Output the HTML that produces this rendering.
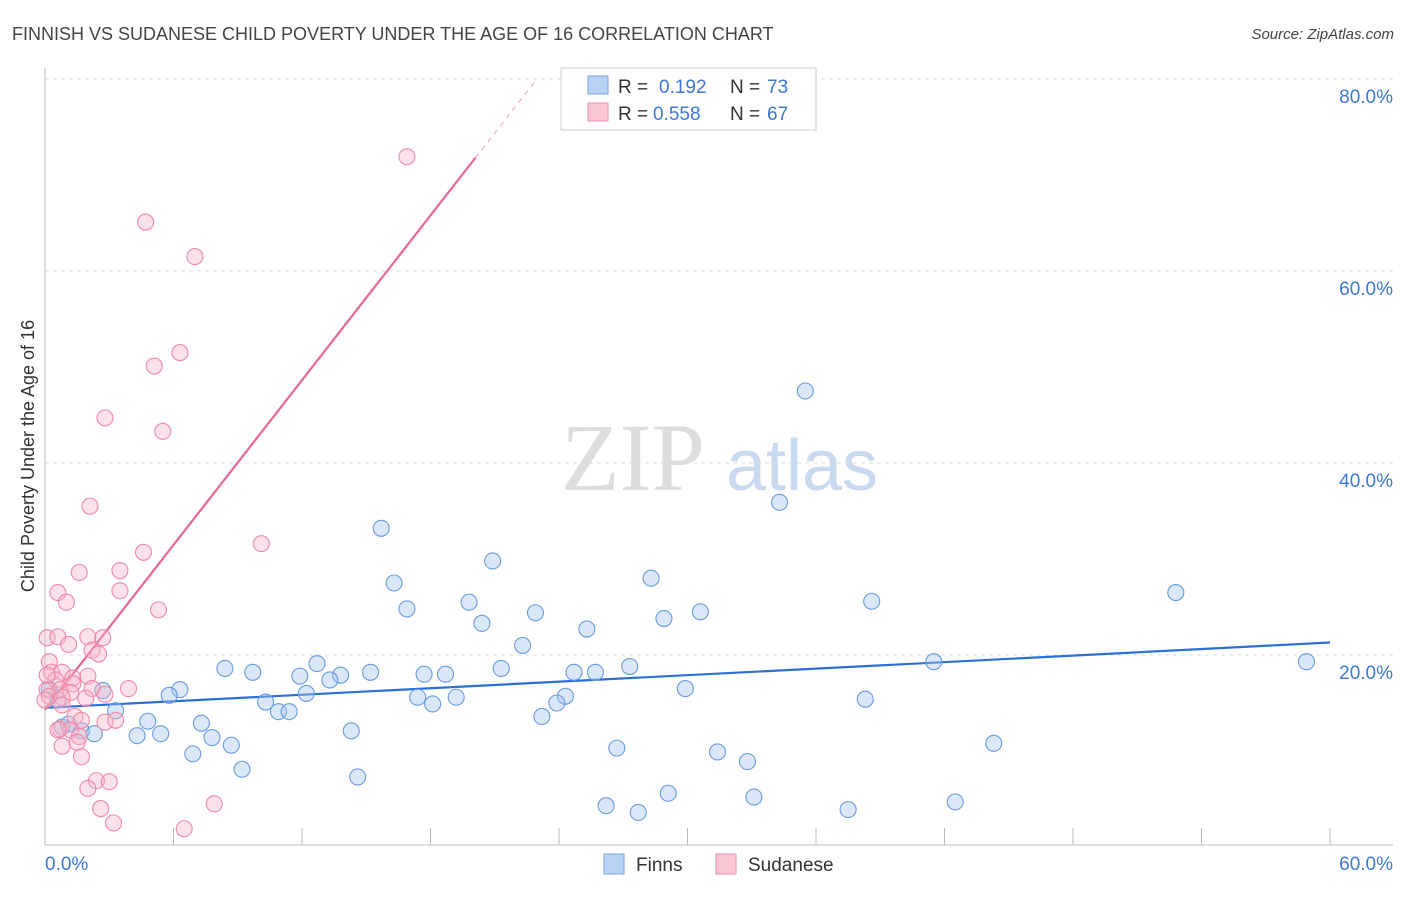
<!DOCTYPE html>
<html><head><meta charset="utf-8">
<style>
body{margin:0;background:#fff;font-family:"Liberation Sans",sans-serif;}
svg text{font-family:"Liberation Sans",sans-serif;}
</style></head>
<body>
<svg id="chart" width="1406" height="892" xmlns="http://www.w3.org/2000/svg">
<text x="12" y="40" font-size="18" fill="#444">FINNISH VS SUDANESE CHILD POVERTY UNDER THE AGE OF 16 CORRELATION CHART</text>
<text x="1394" y="39" font-size="15" fill="#444" text-anchor="end" font-style="italic">Source: ZipAtlas.com</text>
<g>
<text x="633" y="490" font-size="96" fill="#ddd" text-anchor="middle" font-family="Liberation Serif" style="font-family:'Liberation Serif',serif">ZIP</text>
<text x="802" y="490" font-size="72" fill="#c9d9ef" text-anchor="middle">atlas</text>
</g>
<g id="grid"></g>
<g id="axes"></g>
<g id="trends"></g>
<g id="points"></g>
<text transform="translate(34,456) rotate(-90)" font-size="18" fill="#333" text-anchor="middle">Child Poverty Under the Age of 16</text>
<g>
<rect x="561" y="68" width="255" height="62" fill="#fff" stroke="#ccc"/>
<rect x="588" y="76" width="20" height="18" fill="#b9d1f3" stroke="#7aa6e0"/>
<rect x="588" y="103" width="20" height="18" fill="#f9c6d4" stroke="#ee92ae"/>
<text x="618" y="93" font-size="19" fill="#333">R = <tspan x="659" fill="#3c78d8">0.192</tspan><tspan x="730">N = </tspan><tspan x="767" fill="#3c78d8">73</tspan></text>
<text x="618" y="120" font-size="19" fill="#333">R = <tspan x="653" fill="#3c78d8">0.558</tspan><tspan x="730">N = </tspan><tspan x="767" fill="#3c78d8">67</tspan></text>
</g>
<g>
<rect x="604" y="854" width="20" height="20" fill="#b9d1f3" stroke="#7aa6e0"/>
<text x="636" y="871" font-size="19" fill="#333">Finns</text>
<rect x="716" y="854" width="20" height="20" fill="#f9c6d4" stroke="#ee92ae"/>
<text x="748" y="871" font-size="19" fill="#333">Sudanese</text>
</g>
</svg>
<script>
const finnX=[35.5,34.3,15.7,20.9,28.3,16.3,52.8,38.6,19.8,16.9,22.9,30.6,28.9,20.4,25.3,22.3,41.5,58.9,12.7,8.4,9.7,15.2,13.8,11.9,13.3,17.7,18.7,21.3,24.7,25.7,27.3,6.3,5.8,12.2,17.4,19.2,24.3,29.9,38.3,10.3,18.1,23.9,2.7,3.3,10.9,11.4,23.2,4.8,7.3,0.8,1.7,2.3,4.3,5.4,7.8,8.7,14.3,44.3,26.7,31.4,6.9,32.8,9.2,14.6,29.1,33.1,42.5,26.2,27.7,37.5,1.1,0.6,0.2];
const finnY=[47.5,35.9,33.2,29.8,28.0,27.5,26.5,25.6,25.5,24.8,24.4,24.5,23.8,23.3,22.7,21.0,19.3,19.3,19.1,18.6,18.2,18.2,17.9,17.8,17.4,18.0,18.0,18.6,18.2,18.2,18.8,16.4,15.8,16.0,15.6,15.6,15.7,16.5,15.4,15.1,14.9,15.0,16.3,14.2,14.1,14.1,13.6,13.1,12.9,12.5,12.1,11.8,11.6,11.8,11.4,10.6,12.1,10.8,10.3,9.9,9.7,8.9,8.1,7.3,5.6,5.2,4.7,4.3,3.6,3.9,12.8,15.3,16.4];
const sudX=[16.9,4.7,7.0,6.3,5.1,2.8,5.5,2.1,10.1,4.6,1.6,3.5,0.6,1.0,3.5,5.3,0.1,0.6,2.0,2.7,1.1,2.2,2.5,0.2,0.3,0.8,1.3,2.0,0.5,1.3,0.1,0.7,1.2,2.2,3.9,2.8,0.2,0.8,1.9,0.8,1.4,2.8,1.7,3.3,0.7,1.2,1.6,0.8,1.5,1.7,2.4,3.0,2.0,2.6,3.2,7.9,6.5,0.6,0.0,0.1];
const sudY=[71.9,65.1,61.5,51.5,50.1,44.7,43.3,35.5,31.6,30.7,28.6,28.8,26.5,25.5,26.7,24.7,21.8,21.9,21.9,21.8,21.1,20.5,20.1,19.3,18.2,18.2,17.6,17.8,17.4,17.0,16.4,16.4,16.1,16.5,16.5,15.9,15.7,15.6,15.5,14.8,13.6,13.0,13.2,13.2,12.3,12.2,11.5,10.5,10.9,9.4,6.9,6.8,6.1,4.0,2.5,4.5,1.9,12.2,15.3,17.9];
const xTicks=[0,6,12,18,24,30,36,42,48,54,60];
const yTicks=[20,40,60,80];
const finnTrend=[[0,14.5],[60,21.3]];
const sudTrend=[[0,14.3],[20.1,71.8]];
const sudTrendDash=[[20.1,71.8],[22.9,79.8]];

const NS="http://www.w3.org/2000/svg";
const X0=45,X1=1330,Y0=847,PERY=9.6;
const sx=v=>X0+v*(X1-X0)/60;
const sy=v=>Y0-v*PERY;
function mk(tag,attrs,parent){const e=document.createElementNS(NS,tag);for(const k in attrs)e.setAttribute(k,attrs[k]);parent.appendChild(e);return e;}
const grid=document.getElementById('grid'),axes=document.getElementById('axes'),trends=document.getElementById('trends'),pts=document.getElementById('points');
yTicks.forEach(t=>{
 const l=mk('line',{x1:45,x2:1393,y1:sy(t),y2:sy(t),stroke:'#ddd','stroke-dasharray':'4,4'},grid);
 
 
 const tx=mk('text',{x:1393,y:sy(t)+24,'font-size':19,fill:'#3c78d8','text-anchor':'end'},axes);
 tx.textContent=t.toFixed(1)+'%';
 
 
});
mk('line',{x1:45,x2:45,y1:68,y2:845,stroke:'#bbb'},axes);
mk('line',{x1:45,x2:1393,y1:845,y2:845,stroke:'#bbb'},axes);
xTicks.forEach(t=>{
 const l=mk('line',{x1:sx(t),x2:sx(t),y1:828,y2:845,stroke:'#bbb'},axes);
 
 
});
[[0,'start'],[60,'end']].forEach(([t,a])=>{
 const tx=mk('text',{x:t==0?45:1393,y:870,'font-size':19,fill:'#3c78d8','text-anchor':a},axes);
 tx.textContent=t.toFixed(1)+'%';
 
 
});
function drawPts(xs,ys,fill,stroke,name){
 xs.forEach((x,i)=>{
  const c=mk('circle',{cx:sx(x),cy:sy(ys[i]),r:8,fill:fill,stroke:stroke,'stroke-width':1.1},pts);
  
  
 });
}
drawPts(finnX,finnY,'rgba(160,195,240,0.4)','#6a9be0','finns');
drawPts(sudX,sudY,'rgba(248,180,200,0.4)','#ec8aa8','sudanese');
function line(p,stroke,name,dash){
 const l=mk('line',{x1:sx(p[0][0]),y1:sy(p[0][1]),x2:sx(p[1][0]),y2:sy(p[1][1]),stroke:stroke,'stroke-width':dash?1:2.2},trends);
 if(dash)l.setAttribute('stroke-dasharray','5,5');
 
 
}
line(finnTrend,'#2c6fd6','finns-trend-line');
line(sudTrend,'#e8679a','sudanese-trend-line');
line(sudTrendDash,'#e9a0bb','sudanese-trend-extension',true);
</script>
</body></html>
